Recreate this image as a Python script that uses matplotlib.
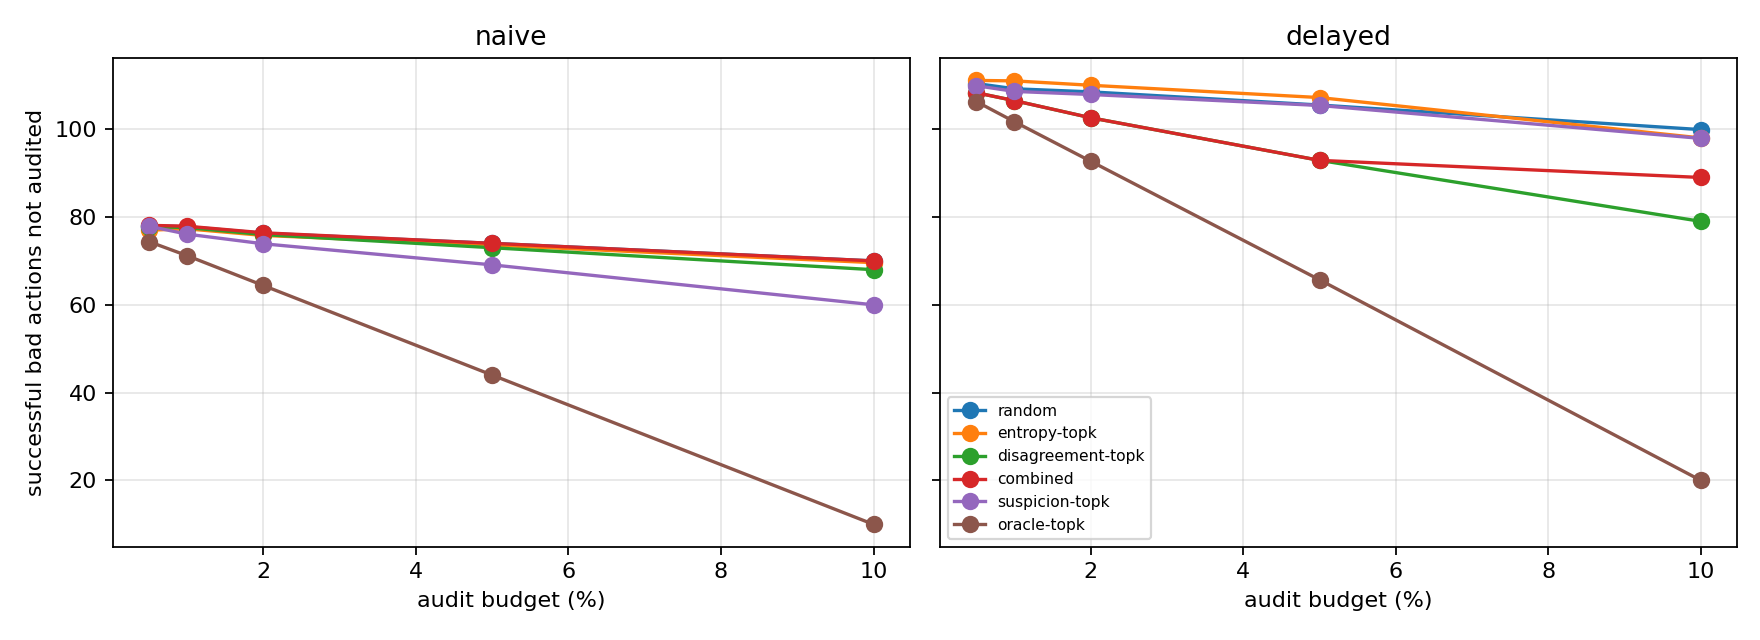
import matplotlib
matplotlib.use("Agg")
import matplotlib.pyplot as plt

budgets = [0.5, 1, 2, 5, 10]
methods = ["random", "entropy-topk", "disagreement-topk", "combined", "suspicion-topk", "oracle-topk"]

naive_random = [78.0, 77.8, 76.3, 74.0, 70.0]
naive_entropy = [77.0, 77.3, 75.8, 73.6, 69.6]
naive_disagreement = [77.8, 77.6, 76.0, 73.0, 68.0]
naive_combined = [78.1, 77.9, 76.4, 74.0, 70.0]
naive_suspicion = [77.9, 76.1, 73.9, 69.1, 60.0]
naive_oracle = [74.4, 71.2, 64.4, 44.0, 10.0]

delayed_random = [110.4, 109.2, 108.5, 105.5, 99.9]
delayed_entropy = [111.1, 111.0, 110.0, 107.2, 98.0]
delayed_disagreement = [108.3, 106.5, 102.6, 92.9, 79.0]
delayed_combined = [108.3, 106.5, 102.6, 92.9, 89.0]
delayed_suspicion = [109.9, 108.6, 107.9, 105.4, 97.9]
delayed_oracle = [106.3, 101.7, 92.7, 65.7, 20.0]

naive = [naive_random, naive_entropy, naive_disagreement, naive_combined, naive_suspicion, naive_oracle]
delayed = [delayed_random, delayed_entropy, delayed_disagreement, delayed_combined, delayed_suspicion, delayed_oracle]

fig, axes = plt.subplots(1, 2, figsize=(11, 4), dpi=160, sharey=True)
for ax, title, data in zip(axes, ["naive", "delayed"], [naive, delayed]):
    for name, vals in zip(methods, data):
        ax.plot(budgets, vals, marker="o", markersize=6.8, label=name)
    ax.set_title(title)
    ax.set_xlabel("audit budget (%)")
    ax.grid(True, alpha=0.3)
axes[0].set_ylabel("successful bad actions not audited")
axes[1].legend(loc="lower left", fontsize=7)
fig.subplots_adjust(left=0.064, right=0.987, top=0.909, bottom=0.146, wspace=0.038)
fig.savefig("out.png", dpi=160)
